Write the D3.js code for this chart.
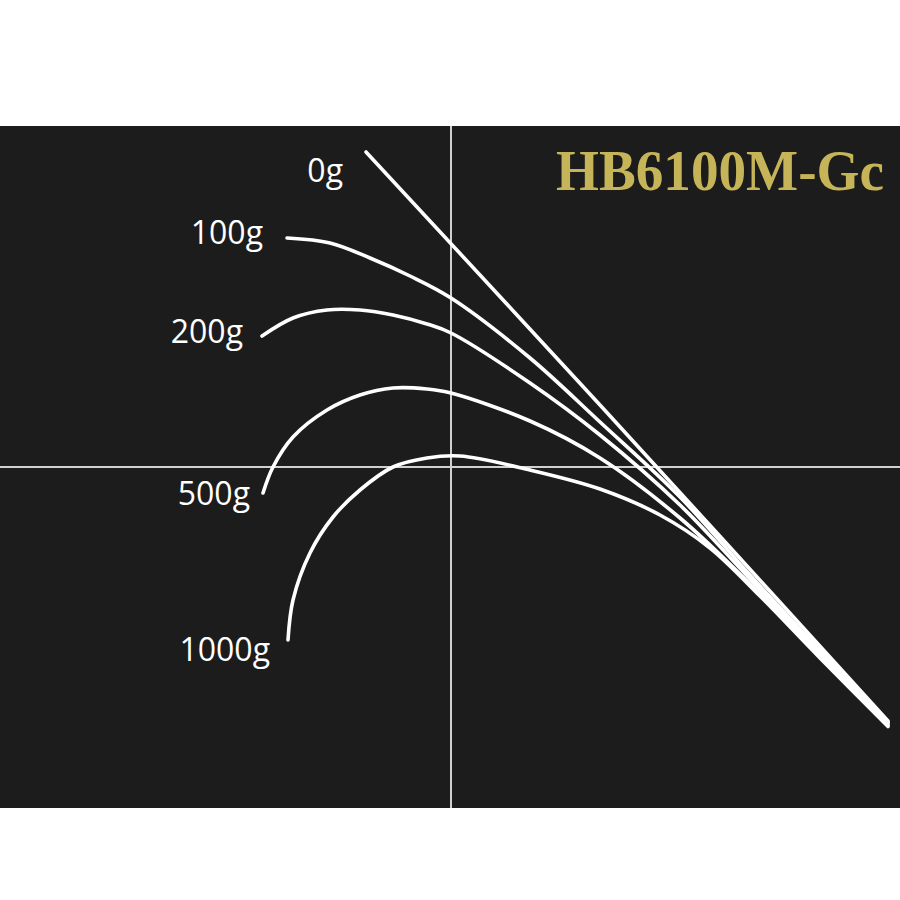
<!DOCTYPE html>
<html>
<head>
<meta charset="utf-8">
<script src="https://cdn.jsdelivr.net/npm/d3@7"></script>
<style>
  html, body { margin: 0; padding: 0; background: #ffffff; }
  svg { display: block; }
</style>
</head>
<body>
<div id="chart"></div>
<script>
// Rod bend curves under load, chart units (0,0 = crosshair)
const loads = ["0g", "100g", "200g", "500g", "1000g"];

const bend0 = [[-8.5, 31.5], [14.9, 6.2], [43.7, -25.4]];
const bend100 = [[-16.4, 22.9], [-12.1, 22.4], [-8.1, 20.9], [-4.1, 19.1], [0, 16.9], [7.9, 10.9],
  [14.9, 4.5], [22.9, -3.0], [29.9, -10.8], [36.9, -18.35], [43.7, -25.5]];
const bend200 = [[-18.9, 13.1], [-15.8, 14.9], [-12.4, 15.7], [-9.1, 15.7], [-5.8, 15.2], [-2.4, 14.3],
  [0, 13.4], [7.9, 8.4], [14.9, 3.2], [22.9, -3.8], [29.9, -11.2], [36.9, -18.6], [43.7, -25.65]];
const bend500 = [[-18.8, -2.6], [-17.8, 0], [-15.8, 3.0], [-12.4, 5.7], [-9.1, 7.2], [-5.8, 7.9],
  [-2.4, 7.8], [0, 7.4], [7.9, 4.6], [14.9, 0.9], [22.9, -5.1], [29.9, -11.7], [36.9, -18.85],
  [43.7, -25.8]];
const bend1000 = [[-16.3, -17.3], [-15.8, -13.3], [-14.1, -8.6], [-11.8, -5.0], [-9.1, -2.3], [-5.8, 0],
  [-2.4, 0.9], [0.9, 1.1], [7.9, -0.3], [14.9, -2.2], [20.9, -4.8], [25.9, -8.1], [30.9, -12.9],
  [36.9, -19.1], [43.7, -25.95]];

const curves = [bend0, bend100, bend200, bend500, bend1000];
const title = "HB6100M-Gc";

const width = 900, height = 900;
const panelTop = 126, panelBottom = 808;

const svg = d3.select("#chart").append("svg")
  .attr("width", width)
  .attr("height", height);

const x = d3.scaleLinear().domain([-45.1, 44.9]).range([0, width]);
const y = d3.scaleLinear().domain([-34.1, 34.1]).range([panelBottom, panelTop]);

// dark panel
svg.append("rect")
  .attr("x", x(-45.1)).attr("y", y(34.1))
  .attr("width", x(44.9) - x(-45.1))
  .attr("height", y(-34.1) - y(34.1))
  .attr("fill", "#1c1c1c");

// crosshair
svg.append("line")
  .attr("x1", x(0)).attr("x2", x(0))
  .attr("y1", y(34.1)).attr("y2", y(-34.1))
  .attr("stroke", "#d0d0d0").attr("stroke-width", 2);
svg.append("line")
  .attr("x1", x(-45.1)).attr("x2", x(44.9))
  .attr("y1", y(0)).attr("y2", y(0))
  .attr("stroke", "#d0d0d0").attr("stroke-width", 2);

const line = d3.line()
  .x(d => x(d[0]))
  .y(d => y(d[1]))
  .curve(d3.curveCatmullRom.alpha(0.5));

svg.selectAll(".rod")
  .data(curves)
  .enter()
  .append("path")
  .attr("class", "rod")
  .attr("d", line)
  .attr("fill", "none")
  .attr("stroke", "#ffffff")
  .attr("stroke-width", 3.6)
  .attr("stroke-linecap", "round");

// load labels next to each tip (pixel offsets)
const labelOffset = [[-23, 30], [-24, 6], [-19, 7], [-13, 12], [-18, 21]];
svg.selectAll(".load")
  .data(loads)
  .enter()
  .append("text")
  .attr("class", "load")
  .attr("x", (d, i) => x(curves[i][0][0]) + labelOffset[i][0])
  .attr("y", (d, i) => y(curves[i][0][1]) + labelOffset[i][1])
  .attr("text-anchor", "end")
  .attr("font-family", "'Open Sans', sans-serif")
  .attr("font-size", 32)
  .attr("fill", "#ffffff")
  .text(d => d);

// model name
svg.append("text")
  .attr("x", 884)
  .attr("y", 190)
  .attr("text-anchor", "end")
  .attr("font-family", "'Liberation Serif', 'DejaVu Serif', serif")
  .attr("font-weight", "bold")
  .attr("font-size", 56)
  .attr("textLength", 328)
  .attr("lengthAdjust", "spacingAndGlyphs")
  .attr("fill", "#c6b458")
  .text(title);
</script>
</body>
</html>
